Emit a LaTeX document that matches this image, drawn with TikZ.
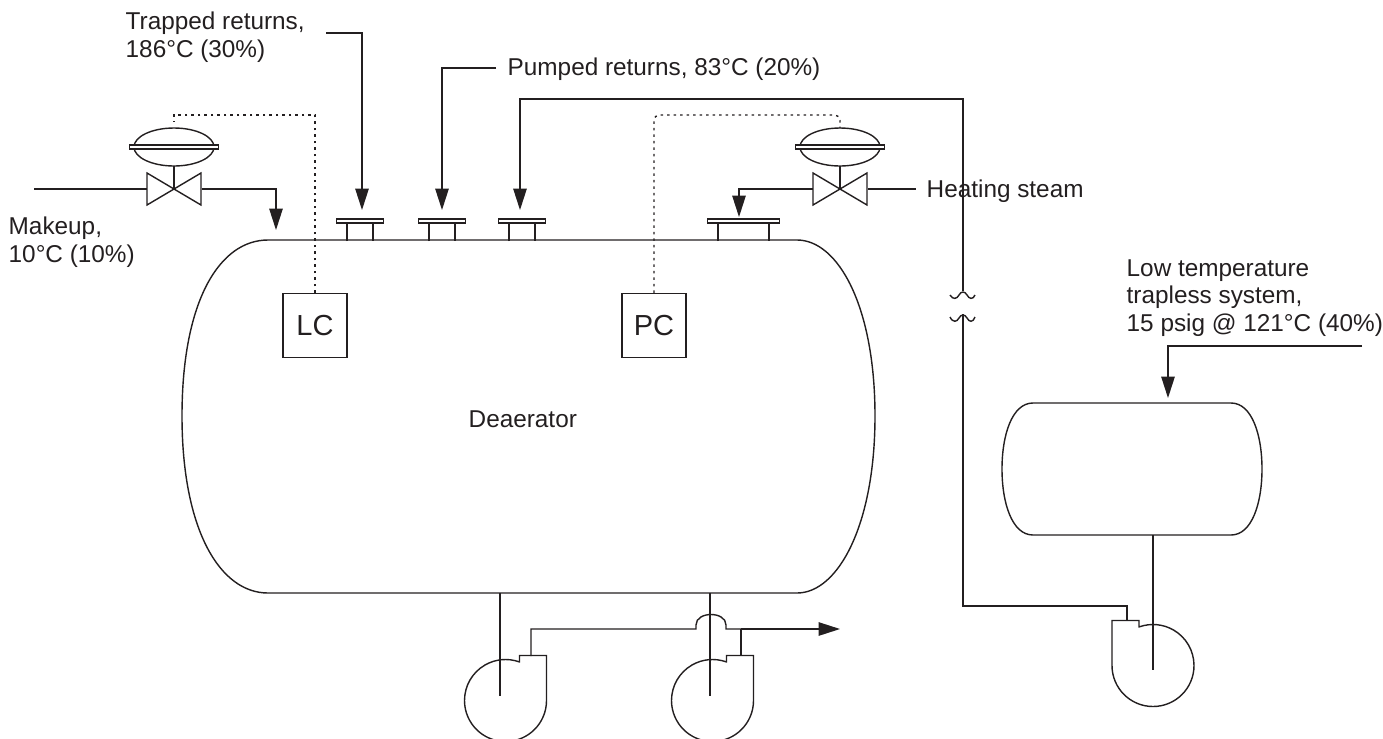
\documentclass[tikz,border=0pt]{standalone}
\usepackage{fontspec}
\setmainfont{Liberation Sans}
\usetikzlibrary{arrows.meta,positioning}
\definecolor{pipeInk}{HTML}{231F20}
\tikzset{
    every picture/.style={x=0.02cm, y=-0.02cm, line width=0.8pt, draw=pipeInk, text=pipeInk},
    pipe/.style={draw=pipeInk, line width=0.8pt},
    flowarrow/.style={-{Triangle[length=0.43cm, width=0.27cm]}, line width=0.8pt, draw=pipeInk},
    signal/.style={draw=pipeInk, line width=0.8pt, dash pattern=on 1.4pt off 2.3pt},
    label/.style={font=\fontsize{13.85}{15.8}\selectfont, align=left, anchor=west, inner sep=0pt, text=pipeInk},
    ctrlbox/.style={draw=pipeInk, line width=0.8pt, minimum size=1.28cm, inner sep=0pt, font=\fontsize{16.5}{18}\selectfont, text=pipeInk},
    % control valve, origin at the centre of the body
    valve/.pic={
        \draw[pipe] (-27,-16) -- (27,16) -- (27,-16) -- (-27,16) -- cycle;
        \draw[pipe] (0,0) -- (0,-23);
        \draw[pipe] (0,-42) ellipse (40 and 19);
        \draw[pipe, fill=white] (-44.5,-44) rectangle (44.5,-40);
    },
    nozzle/.pic={
        \draw[pipe] (-#1,0) -- (-#1,-19) (#1,-19) -- (#1,0);
        \draw[pipe, fill=white] (-#1-10.5,-22) rectangle (#1+10.5,-18);
    },
    % pump casing, origin at the centre of the round part
    pumpR/.pic={
        \draw[pipe] (14,-38) -- (14,-45) -- (41,-45) -- (41,0) arc[start angle=0, end angle=289, radius=41];
    },
    pumpL/.pic={
        \draw[pipe] (-13,-38) -- (-13,-45) -- (-40,-45) -- (-40,0) arc[start angle=180, end angle=-109, radius=41];
    }
}
\begin{document}
\begin{tikzpicture}
\useasboundingbox (0,0) rectangle (1383,738);
\clip (0,0) rectangle (1383,738);

% vessels
\draw[pipe] (268,240) -- (797,240) .. controls (838,240) and (875,306) .. (875,416)
    .. controls (875,525) and (838,593) .. (797,593) -- (268,593)
    .. controls (220,593) and (182,530) .. (182,416) .. controls (182,300) and (220,240) .. (268,240) -- cycle;
\draw[pipe] (1033,403) -- (1231,403) .. controls (1252,403) and (1262,435) .. (1262,469)
    .. controls (1262,503) and (1252,535) .. (1231,535) -- (1033,535)
    .. controls (1012,535) and (1002,503) .. (1002,469) .. controls (1002,435) and (1012,403) .. (1033,403) -- cycle;

% nozzles
\pic at (360,241) {nozzle=13};
\pic at (442,241) {nozzle=13};
\pic at (522,241) {nozzle=13};
\pic at (743.5,241) {nozzle=25.5};

% valves
\pic at (174,189) {valve};
\pic at (840,189) {valve};

% pumps
\pic at (505.5,700.5) {pumpR};
\pic at (712.5,700.5) {pumpR};
\pic at (1152,665.5) {pumpL};

% labels
\node[label] (trapped) at (125,37) {Trapped returns,\\186°C (30\%)};
\node[label] (pumped) at (507,69) {Pumped returns, 83°C (20\%)};
\node[label] (makeup) at (8,242.5) {Makeup,\\10°C (10\%)};
\node[label] (steam) at (926,191) {Heating steam};
\node[label] (lowtemp) at (1126,298) {Low temperature\\trapless system,\\15 psig @ 121°C (40\%)};
\node[label] (deaerator) at (468,419) {Deaerator};
\node[ctrlbox] (lc) at (315,325.5) {LC};
\node[ctrlbox] (pc) at (654,325.5) {PC};

% free ends of the lines
\coordinate (trappedEnd) at (326,33);
\coordinate (trappedTip) at (362,210);
\coordinate (pumpedEnd) at (496,68);
\coordinate (pumpedTip) at (442,210);
\coordinate (recircTip) at (520,210);
\coordinate (makeupIn) at (34,189);
\coordinate (makeupOut) at (202,189);
\coordinate (makeupTip) at (276,230);
\coordinate (steamIn) at (916,189);
\coordinate (steamBody) at (868,189);
\coordinate (steamOut) at (813,189);
\coordinate (steamTip) at (739,217);
\coordinate (lowIn) at (1362,346);
\coordinate (lowTip) at (1168,398);
\coordinate (breakTop) at (963,291);
\coordinate (breakBot) at (963,314);
\coordinate (drumOut) at (1153,535);
\coordinate (shaftC) at (1153,670);
\coordinate (dischC) at (1127,621);
\coordinate (vesselA) at (500,593);
\coordinate (shaftA) at (500,696);
\coordinate (vesselB) at (710,593);
\coordinate (shaftB) at (710,696);
\coordinate (dischA) at (531,656);
\coordinate (dischB) at (741,656);
\coordinate (headerB) at (741,629);
\coordinate (outTip) at (840,629);
\coordinate (valveL) at (174,122);
\coordinate (valveR) at (840,128);

% process lines
\draw[flowarrow] (trappedEnd) -| (trappedTip);
\draw[flowarrow] (pumpedEnd) -| (pumpedTip);
\draw[flowarrow] (breakTop) |- (recircTip |- 0,99) -- (recircTip);
\draw[pipe] (makeupIn) -- (147,189);
\draw[flowarrow] (makeupOut) -| (makeupTip);
\draw[pipe] (steamBody) -- (steamIn);
\draw[flowarrow] (steamOut) -| (steamTip);
\draw[flowarrow] (lowIn) -| (lowTip);

% break in the line
\draw[pipe] (950,295) .. controls (953,300) and (957,299) .. (959,295) .. controls (961,291) and (965,291) .. (967,295) .. controls (969,299) and (973,300) .. (975,295);
\draw[pipe] (950,317) .. controls (953,323) and (957,322) .. (959,318) .. controls (961,314) and (965,314) .. (967,318) .. controls (969,322) and (973,323) .. (975,317);
\draw[pipe] (breakBot) |- (1127,606) -- (dischC);

% pump lines
\draw[pipe] (drumOut) -- (shaftC);
\draw[pipe] (vesselA) -- (shaftA);
\draw[pipe] (vesselB) -- (shaftB);
\draw[pipe] (dischA) |- (696,629) -- (696,625) .. controls (696,611) and (726,611) .. (726,625) -- (726,629) -- (headerB);
\draw[pipe] (headerB) -- (dischB);
\draw[flowarrow] (headerB) -- (outTip);

% signal lines
\draw[signal] (lc.north) |- (valveL |- 0,115) -- (valveL);
\draw[signal, rounded corners=3pt] (pc.north) |- (valveR |- 0,115) -- (valveR);
\end{tikzpicture}
\end{document}
